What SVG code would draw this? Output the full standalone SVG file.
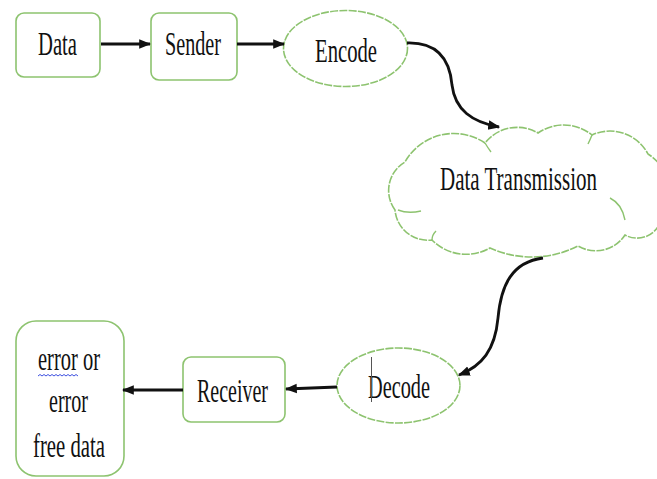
<svg xmlns="http://www.w3.org/2000/svg" width="657" height="479" viewBox="0 0 657 479">
<style>
.box{fill:#fff;stroke:#8dc36f;stroke-width:1.6}
.ell{fill:#fff;stroke:#8dc36f;stroke-width:1.6;stroke-dasharray:8 1.3}
.lbl{font-family:"Liberation Serif","Times New Roman",serif;font-size:33px;fill:#111}
.conn{fill:none;stroke:#111;stroke-width:2.8}
</style>
<defs>
<marker id="ah" markerUnits="userSpaceOnUse" markerWidth="12" markerHeight="12" viewBox="0 0 10 10" refX="9" refY="5" orient="auto">
<path d="M0,1 L10,5 L0,9 Z" fill="#111"/>
</marker>
</defs>
<rect width="657" height="479" fill="#fff"/>
<g id="data">
<rect class="box" x="16" y="13" width="84" height="64" rx="8"/>
<text class="lbl" x="38" y="55" textLength="39" lengthAdjust="spacingAndGlyphs">Data</text>
</g>
<g id="sender">
<rect class="box" x="151" y="13" width="86" height="67" rx="8"/>
<text class="lbl" x="165" y="55" textLength="56" lengthAdjust="spacingAndGlyphs">Sender</text>
</g>
<g id="encode">
<ellipse class="ell" cx="345.5" cy="48.5" rx="62" ry="38"/>
<text class="lbl" x="315" y="62" textLength="62" lengthAdjust="spacingAndGlyphs">Encode</text>
</g>
<g id="transmission">
<path class="ell" d="M395,210 A33 33 0 0 1 405,162 A56 56 0 0 1 485,143 A41 41 0 0 1 538,133 A45 45 0 0 1 592,135 A43 43 0 0 1 648,154 A44 44 0 0 1 662,215 A25 25 0 0 1 625,235 A35 35 0 0 1 578,246 A102 102 0 0 1 490,248 A48 48 0 0 1 432,240 A33 33 0 0 1 395,210 Z"/>
<path fill="none" stroke="#8dc36f" stroke-width="1.4" d="M398,210 Q408,214 421,211 M610,198 Q622,204 625,220 M432,240 Q432,235 436,231 M485,143 Q488,148 491,152 M592,135 Q590,140 588,144"/>
<text class="lbl" x="440" y="190" textLength="157" lengthAdjust="spacingAndGlyphs">Data Transmission</text>
</g>
<g id="decode">
<ellipse class="ell" cx="398.5" cy="385.5" rx="61.5" ry="37.5"/>
<text class="lbl" x="368" y="398" textLength="62" lengthAdjust="spacingAndGlyphs">Decode</text>
<line x1="371.5" y1="357" x2="371.5" y2="402" stroke="#555" stroke-width="1"/>
</g>
<g id="receiver">
<rect class="box" x="183" y="357" width="102" height="65" rx="8"/>
<text class="lbl" x="197" y="402" textLength="71" lengthAdjust="spacingAndGlyphs">Receiver</text>
</g>
<g id="result">
<rect class="box" x="16" y="321" width="108" height="155" rx="20"/>
<text class="lbl" x="38" y="370" textLength="62" lengthAdjust="spacingAndGlyphs">error or</text>
<text class="lbl" x="49" y="412" textLength="39" lengthAdjust="spacingAndGlyphs">error</text>
<text class="lbl" x="33" y="457" textLength="72" lengthAdjust="spacingAndGlyphs">free data</text>
<path fill="none" stroke="#3d4fe0" stroke-width="1" d="M38,376 l2,-1.5 l2,1.5 l2,-1.5 l2,1.5 l2,-1.5 l2,1.5 l2,-1.5 l2,1.5 l2,-1.5 l2,1.5 l2,-1.5 l2,1.5 l2,-1.5 l2,1.5 l2,-1.5 l2,1.5 l2,-1.5 l2,1.5 l2,-1.5 l2,1.5"/>
</g>
<g id="connectors">
<path class="conn" d="M101,44 L150,44" marker-end="url(#ah)"/>
<path class="conn" d="M237,44 L284,44" marker-end="url(#ah)"/>
<path class="conn" d="M407,43 C440,42 450,62 452,85 C455,110 472,122 499,127" marker-end="url(#ah)"/>
<path class="conn" d="M543,258 C512,262 501,285 498,318 C495,350 482,366 459,375" marker-end="url(#ah)"/>
<path class="conn" d="M337,387 L286,389" marker-end="url(#ah)"/>
<path class="conn" d="M183,390 L123,390" marker-end="url(#ah)"/>
</g>
</svg>
